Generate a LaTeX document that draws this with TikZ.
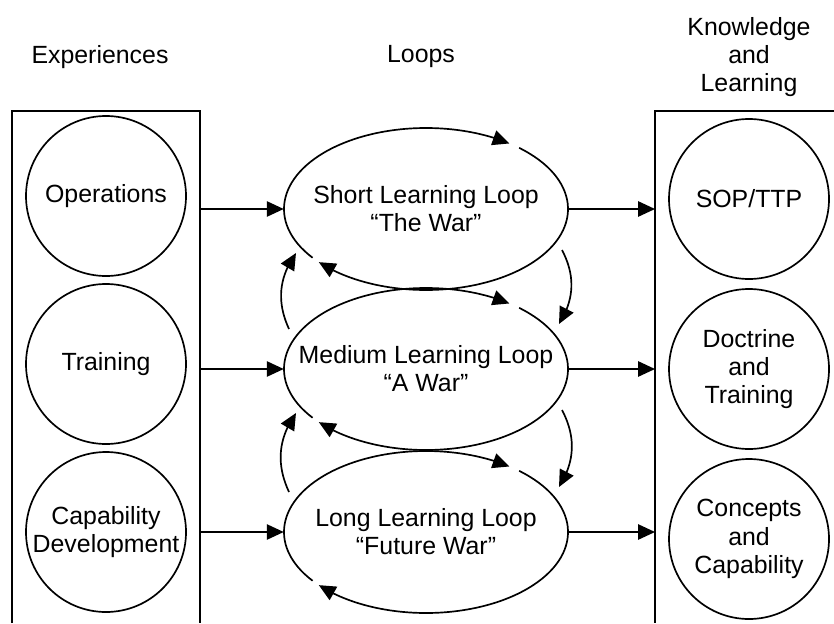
\documentclass[tikz,border=0pt]{standalone}
\usepackage{fontspec}
\setmainfont{Liberation Sans}
\usetikzlibrary{arrows.meta,shapes.geometric,bending}

\begin{document}
\begin{tikzpicture}[
        txt/.style={font=\fontsize{17.7}{20}\selectfont, align=center},
        circ/.style={txt, draw, circle, line width=1.2pt, minimum size=4cm, inner sep=0pt},
        loopbox/.style={txt, ellipse, inner xsep=-1.2cm, inner ysep=0pt,
                        minimum width=7.1cm, minimum height=4.05cm},
        frame/.style={line width=1.2pt},
        ring/.style={line width=1.2pt, -{Triangle[length=4.2mm, width=3.8mm]}},
        arrow/.style={line width=1.2pt, -{Triangle[length=4.2mm, width=3.8mm]}}
    ]
        \useasboundingbox (0,0) rectangle (20.85,15.575);

        % column headings
        \node[txt] (h1) at (2.5,14.15) {Experiences};
        \node[txt] (h2) at (10.525,14.15) {Loops};
        \node[txt] (h3) at (18.725,14.15) {Knowledge\\and\\Learning};

        % open boxes on both sides
        \coordinate (lb) at (5.0,12.8);
        \coordinate (rb) at (16.375,12.8);
        \draw[frame] (0.3,0) |- (lb) -- (5.0,0);
        \draw[frame] (21.5,12.8) -- (rb) -- (16.375,0);

        \node[circ] (x1) at (2.65,10.675) {Operations};
        \node[circ] (x2) at (2.65,6.475) {Training};
        \node[circ] (x3) at (2.65,2.275) {Capability\\Development};

        \node[circ] (k1) at (18.725,10.6) {SOP/TTP};
        \node[circ] (k2) at (18.725,6.35) {Doctrine\\and\\Training};
        \node[circ] (k3) at (18.725,2.1) {Concepts\\and\\Capability};

        \node[loopbox] (e1) at (10.65,10.35) {Short Learning Loop\\“The War”};
        \node[loopbox] (e2) at (10.65,6.35) {Medium Learning Loop\\“A War”};
        \node[loopbox] (e3) at (10.65,2.275) {Long Learning Loop\\“Future War”};

        % each loop outline runs clockwise in two pieces
        \draw[ring] ([shift={(217:3.55 and 2.025)}]e1.center) arc[start angle=217, end angle=54, x radius=3.55cm, y radius=2.025cm];
        \draw[ring] ([shift={(49:3.55 and 2.025)}]e1.center) arc[start angle=49, end angle=-139, x radius=3.55cm, y radius=2.025cm];
        \draw[ring] ([shift={(217:3.55 and 2.025)}]e2.center) arc[start angle=217, end angle=54, x radius=3.55cm, y radius=2.025cm];
        \draw[ring] ([shift={(49:3.55 and 2.025)}]e2.center) arc[start angle=49, end angle=-139, x radius=3.55cm, y radius=2.025cm];
        \draw[ring] ([shift={(217:3.55 and 2.025)}]e3.center) arc[start angle=217, end angle=54, x radius=3.55cm, y radius=2.025cm];
        \draw[ring] ([shift={(49:3.55 and 2.025)}]e3.center) arc[start angle=49, end angle=-139, x radius=3.55cm, y radius=2.025cm];

        % between the loops
        \draw[arrow] ([shift={(-3.425,1.0)}]e2.center) to[bend left=30] ([shift={(-3.25,-1.1)}]e1.center);
        \draw[arrow] ([shift={(3.4,-1.025)}]e1.center) to[bend left=30] ([shift={(3.325,1.125)}]e2.center);
        \draw[arrow] ([shift={(-3.425,1.0)}]e3.center) to[bend left=30] ([shift={(-3.25,-1.1)}]e2.center);
        \draw[arrow] ([shift={(3.4,-1.025)}]e2.center) to[bend left=30] ([shift={(3.325,1.125)}]e3.center);

        \draw[arrow] (e1.west -| lb) -- (e1.west);
        \draw[arrow] (e2.west -| lb) -- (e2.west);
        \draw[arrow] (e3.west -| lb) -- (e3.west);
        \draw[arrow] (e1.east) -- (e1.east -| rb);
        \draw[arrow] (e2.east) -- (e2.east -| rb);
        \draw[arrow] (e3.east) -- (e3.east -| rb);
    \end{tikzpicture}
\end{document}
